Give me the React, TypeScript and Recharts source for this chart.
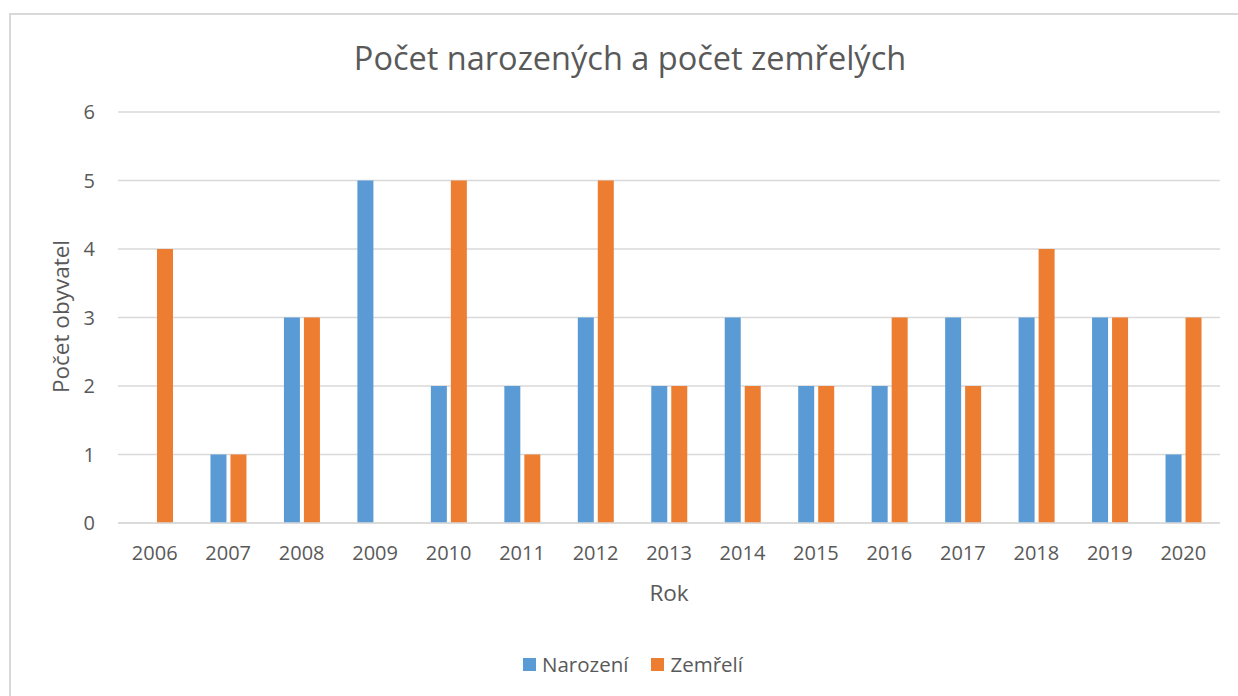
import { Bar, BarChart, CartesianGrid, XAxis, YAxis } from 'recharts'

const years = ['2006', '2007', '2008', '2009', '2010', '2011', '2012', '2013', '2014', '2015', '2016', '2017', '2018', '2019', '2020']
const narozeni = [0, 1, 3, 5, 2, 2, 3, 2, 3, 2, 2, 3, 3, 3, 1]
const zemreli = [4, 1, 3, 0, 5, 1, 5, 2, 2, 2, 3, 2, 4, 3, 3]
const yTicks = [0, 1, 2, 3, 4, 5, 6]

const BLUE = '#5B9BD5'
const ORANGE = '#ED7D31'
const TEXT = '#595959'
const GRID = '#d9d9d9'

const data = years.map((rok, i) => ({ rok, narozeni: narozeni[i], zemreli: zemreli[i] }))

// rotated y-axis title, centred on the plot height
function YTitle(props: any) {
  const vb = props.viewBox || {}
  const cx = 60
  const cy = vb.y + vb.height / 2 - 1
  return (
    <text
      x={cx}
      y={cy}
      transform={`rotate(-90 ${cx} ${cy})`}
      textAnchor="middle"
      dominantBaseline="central"
      fill={TEXT}
      fontSize={22.5}
    >
      Počet obyvatel
    </text>
  )
}

export default function App() {
  return (
    <div
      style={{
        position: 'absolute',
        left: 0,
        top: 0,
        width: 1238,
        height: 696,
        background: '#fff',
        overflow: 'hidden',
        fontFamily: '"Open Sans", sans-serif',
        color: TEXT,
      }}
    >
      {/* chart frame, running off the right and bottom edges */}
      <div
        style={{
          position: 'absolute',
          left: 9,
          top: 13,
          width: 1300,
          height: 800,
          borderTop: `2px solid ${GRID}`,
          borderLeft: `2px solid ${GRID}`,
        }}
      />
      <div
        style={{
          position: 'absolute',
          left: 0,
          width: 1260,
          top: 35,
          textAlign: 'center',
          fontSize: 32.5,
          lineHeight: '46px',
        }}
      >
        Počet narozených a počet zemřelých
      </div>

      <div style={{ position: 'absolute', left: 0, top: 0 }}>
        <BarChart
          width={1238}
          height={696}
          data={data}
          margin={{ top: 112, right: 18, bottom: 73, left: 38 }}
          barGap={4}
        >
          <CartesianGrid vertical={false} stroke={GRID} strokeWidth={1.5} />
          <XAxis
            dataKey="rok"
            height={100}
            axisLine={{ stroke: GRID, strokeWidth: 1.5 }}
            tickLine={false}
            tickMargin={17}
            tick={{ fill: TEXT, fontSize: 20 }}
            label={{ value: 'Rok', position: 'insideBottom', offset: 22, fill: TEXT, fontSize: 22.5 }}
          />
          <YAxis
            width={80}
            domain={[0, 6]}
            ticks={yTicks}
            axisLine={false}
            tickLine={false}
            tickMargin={17}
            tick={{ fill: TEXT, fontSize: 20 }}
            label={<YTitle />}
          />
          <Bar dataKey="narozeni" name="Narození" fill={BLUE} barSize={16} isAnimationActive={false} />
          <Bar dataKey="zemreli" name="Zemřelí" fill={ORANGE} barSize={16} isAnimationActive={false} />
        </BarChart>
      </div>

      {/* legend */}
      <div
        style={{
          position: 'absolute',
          top: 650,
          left: 523,
          display: 'flex',
          alignItems: 'center',
          fontSize: 20.5,
          lineHeight: '28px',
        }}
      >
        <span style={{ width: 13, height: 13, background: BLUE, display: 'inline-block', marginRight: 6 }} />
        <span style={{ marginRight: 23 }}>Narození</span>
        <span style={{ width: 13, height: 13, background: ORANGE, display: 'inline-block', marginRight: 6 }} />
        <span>Zemřelí</span>
      </div>
    </div>
  )
}
